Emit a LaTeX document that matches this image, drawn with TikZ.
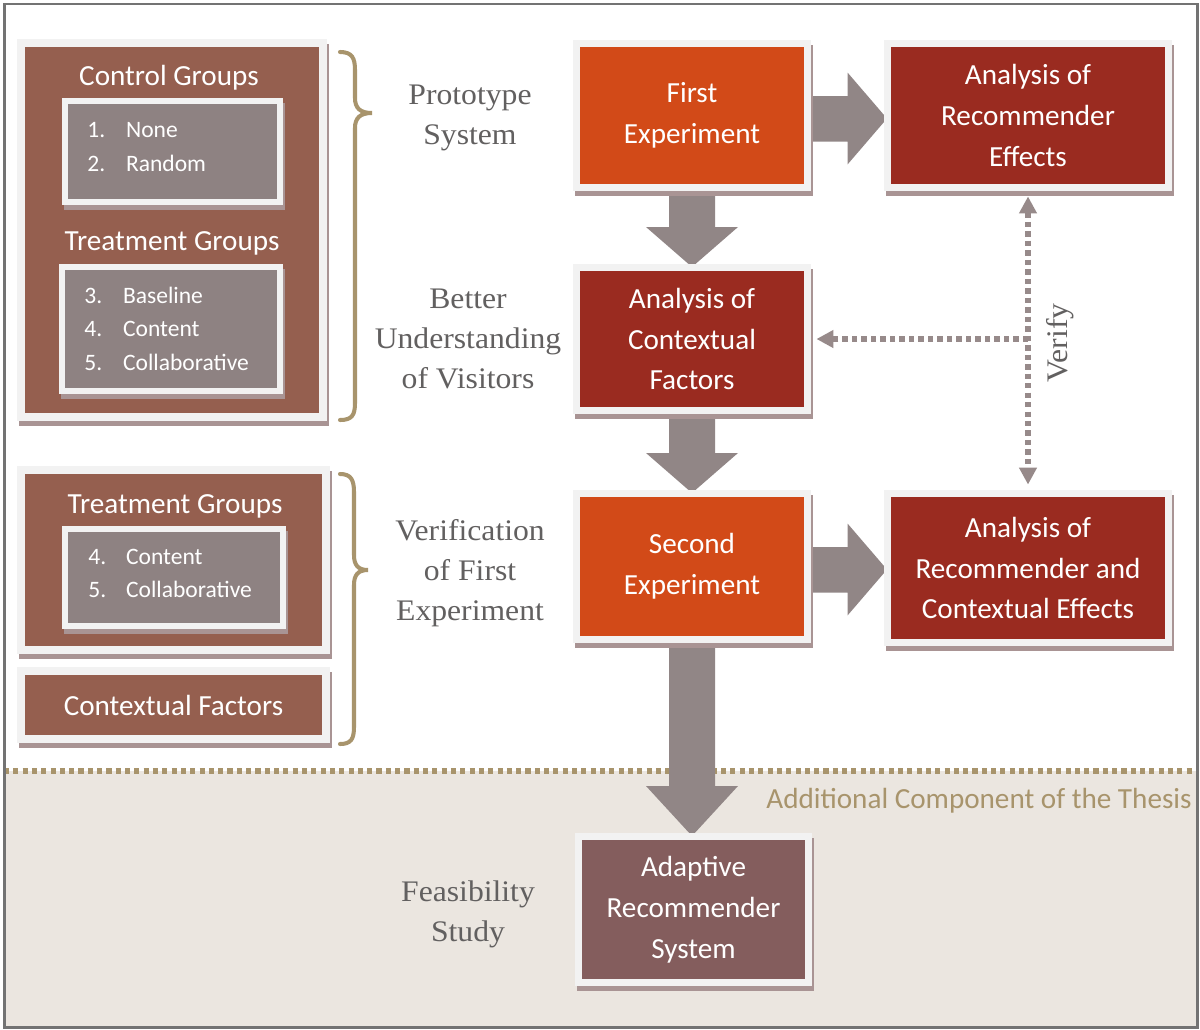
\documentclass[tikz,border=0pt]{standalone}
\usepackage{fontspec}
\setmainfont{Carlito}
\newfontfamily\serifl[FakeStretch=1.06]{Liberation Serif}
\usetikzlibrary{shadows,calc,arrows.meta}
\definecolor{cBrown}{HTML}{955F4F}
\definecolor{cGray}{HTML}{8E8282}
\definecolor{cOrange}{HTML}{D24A18}
\definecolor{cRed}{HTML}{9A2B20}
\definecolor{cMauve}{HTML}{845D5D}
\definecolor{cFrame}{HTML}{F2F2F2}
\definecolor{cShadow}{HTML}{A99494}
\definecolor{cArrow}{HTML}{918686}
\definecolor{cDot}{HTML}{978A8A}
\definecolor{cTan}{HTML}{A8946C}
\definecolor{cBeige}{HTML}{EBE6E0}
\definecolor{cLabel}{HTML}{626060}
\definecolor{cBorder}{HTML}{737373}
\def\upx{0.02cm}
\newcommand\boxfont{\fontsize{16.6pt}{23.2pt}\selectfont}
\newcommand\itemfont{\fontsize{13.4pt}{19pt}\selectfont}
\newcommand\lblfont{\serifl\fontsize{17pt}{22.7pt}\selectfont}
\newcommand\blockdown[3]{\fill[cArrow] ($(#1.south)+(-23,0)$) -- ($(#1.south |- #2.north)+(-23,-#3)$) -- ($(#1.south |- #2.north)+(-46,-#3)$) -- ($(#1.south |- #2.north)+(0,3)$) -- ($(#1.south |- #2.north)+(46,-#3)$) -- ($(#1.south |- #2.north)+(23,-#3)$) -- ($(#1.south)+(23,0)$) -- cycle;}
\newcommand\blockright[2]{\fill[cArrow] ($(#1.east)+(0,-19.5)$) -- ($(#1.east -| #2.west)+(-36.5,-19.5)$) -- ($(#1.east -| #2.west)+(-36.5,-43)$) -- ($(#1.east -| #2.west)+(3,3)$) -- ($(#1.east -| #2.west)+(-36.5,49)$) -- ($(#1.east -| #2.west)+(-36.5,26)$) -- ($(#1.east)+(0,26)$) -- cycle;}
\pgfdeclarelayer{bg}
\pgfdeclarelayer{arr}
\pgfsetlayers{bg,arr,main}
\tikzset{
  card/.style n args={4}{draw=cFrame, fill=#1, line width=#4*\upx,
    minimum width=(#2+#4)*\upx, minimum height=(#3+#4)*\upx, inner sep=0pt,
    text=white, align=center,
    drop shadow={shadow xshift=1.2pt, shadow yshift=-2.8pt, fill=cShadow, draw=cShadow, opacity=1}},
  txt/.style={text=white, font=\boxfont, inner sep=0pt},
  itm/.style={text=white, font=\itemfont, inner sep=0pt, anchor=base west},
  lbl/.style={text=cLabel, font=\lblfont, align=center, inner sep=0pt},
  dotline/.style={draw=cDot, line width=3.1pt, dash pattern=on 3.1pt off 2.3pt},
  tipT/.tip={Triangle[width=9.6pt,length=9.6pt]},
  bracec/.style={draw=cTan, line width=2.3pt, line cap=round}
}
\begin{document}
\begin{tikzpicture}[x=0.02cm, y=-0.02cm]
\useasboundingbox (0,0) rectangle (1200,1029);
% right column boxes
\node[card={cOrange}{224}{137}{7}, font=\boxfont] (fe) at (692,115.5) {First\\Experiment};
\node[card={cRed}{274}{137}{7}, font=\boxfont] (are) at (1028,115.5) {Analysis of\\Recommender\\Effects};
\node[card={cRed}{224}{136}{7}, font=\boxfont] (acf) at (692,339) {Analysis of\\Contextual\\Factors};
\node[card={cOrange}{224}{139}{7}, font=\boxfont] (se) at (692,566.5) {Second\\Experiment};
\node[card={cRed}{274}{142}{7}, font=\boxfont] (arc) at (1028,568) {Analysis of\\Recommender and\\Contextual Effects};
\node[card={cMauve}{223}{139}{7}, font=\boxfont] (ars) at (693.5,909.5) {Adaptive\\Recommender\\System};
% left boxes
\node[card={cBrown}{294}{366}{8}] (lb1) at (172,230) {};
\node[card={cGray}{209}{95}{6}] (cg) at (172.5,151.5) {};
\node[card={cGray}{212}{118}{6}] (tg) at (171,329) {};
\node[card={cBrown}{297}{172}{8}] (lb2) at (173.5,560) {};
\node[card={cGray}{212}{91}{6}] (tg2) at (174,577.5) {};
\node[card={cBrown}{297}{60}{8}, font=\boxfont] (cf) at (173.5,705) {Contextual Factors};
% left texts
\node[txt, anchor=base] (t1) at (169,85) {Control Groups};
\node[txt, anchor=base] (t2) at (172,250.5) {Treatment Groups};
\node[txt, anchor=base] (t3) at (175,513) {Treatment Groups};
\node[itm] (n1) at (87,137) {1.};
\node[itm] (i1) at (125.7,137) {None};
\node[itm] (n2) at (87,171) {2.};
\node[itm] (i2) at (125.7,171) {Random};
\node[itm] (n3) at (84,303) {3.};
\node[itm] (i3) at (122.7,303) {Baseline};
\node[itm] (n4) at (84,336) {4.};
\node[itm] (i4) at (122.7,336) {Content};
\node[itm] (n5) at (84,370) {5.};
\node[itm] (i5) at (122.7,370) {Collaborative};
\node[itm] (m4) at (88,564) {4.};
\node[itm] (j4) at (125.7,564) {Content};
\node[itm] (m5) at (88,597) {5.};
\node[itm] (j5) at (125.7,597) {Collaborative};
% serif labels
\node[lbl] (l1) at (470,118) {Prototype\\System};
\node[lbl] (l2) at (468,339) {Better\\Understanding\\of Visitors};
\node[lbl] (l3) at (470,573) {Verification\\of First\\Experiment};
\node[lbl] (l4) at (468,914) {Feasibility\\Study};
\node[lbl, rotate=90] (vf) at (1060,343) {Verify};
\node[font=\boxfont, text=cTan, anchor=base east, inner sep=0pt] (add) at (1192,808) {Additional Component of the Thesis};
% dotted verify arrows
\coordinate (vj) at (are.south |- acf.east);
\draw[dotline, tipT-tipT, shorten <=3.1pt, shorten >=3.1pt] (are.south) -- (arc.north);
\draw[dotline, -tipT, shorten >=3.1pt] (vj) -- (acf.east);
% block arrows
\begin{pgfonlayer}{arr}
\blockright{fe}{are}
\blockright{se}{arc}
\blockdown{fe}{acf}{37}
\blockdown{acf}{se}{37}
\blockdown{se}{ars}{47}
\end{pgfonlayer}
% background and braces
\begin{pgfonlayer}{bg}
\fill[white] (0,0) rectangle (1200,1029);
\fill[cBeige] (4,771) rectangle (1197,1027);
\draw[draw=cTan, line width=2.9pt, dash pattern=on 2.9pt off 2.4pt] (4,771) -- (1197,771);
\end{pgfonlayer}
\draw[bracec] (340,52) .. controls (352,52) and (355,58) .. (355,70) -- (355,98) .. controls (355,108) and (360,113) .. (372,113) .. controls (360,113) and (355,118) .. (355,128) -- (355,403) .. controls (355,415) and (352,420) .. (340,420);
\draw[bracec] (340,474) .. controls (351,474) and (354,480) .. (354,492) -- (354,555) .. controls (354,565) and (358,570) .. (368,570) .. controls (358,570) and (354,575) .. (354,585) -- (354,727) .. controls (354,739) and (351,744) .. (340,744);
\draw[cBorder, line width=1.4pt] (4.5,4) rectangle (1197.5,1027.5);
\end{tikzpicture}
\end{document}
